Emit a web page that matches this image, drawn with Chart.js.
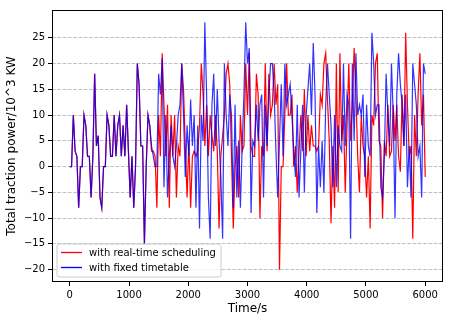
<!DOCTYPE html>
<html>
<head>
<meta charset="utf-8">
<script src="https://cdn.jsdelivr.net/npm/chart.js@4.4.1/dist/chart.umd.min.js"></script>
<style>
html,body{margin:0;padding:0;background:#fff;}
#wrap{width:462px;height:325px;position:relative;}
</style>
</head>
<body>
<div id="wrap"><canvas id="c" width="462" height="325"></canvas></div>
<script>
// ---- data (time in s, power in 10^3 kW) ----
const times = [
0,30,60,90,120,150,180,210,240,270,300,330,360,390,420,450,480,510,540,570,
600,630,660,690,720,750,780,810,840,870,900,930,960,990,1020,1050,1080,1110,1140,1170,
1200,1230,1260,1290,1320,1350,1380,1410,1440,1470,1500,1530,1560,1590,1620,1650,1680,1710,1740,1770,
1800,1830,1860,1890,1920,1950,1980,2010,2040,2070,2100,2130,2160,2190,2220,2250,2280,2310,2340,2370,
2400,2430,2460,2490,2520,2550,2580,2610,2640,2670,2700,2730,2760,2790,2820,2850,2880,2910,2940,2970,
3000,3030,3060,3090,3120,3150,3180,3210,3240,3270,3300,3330,3360,3390,3420,3450,3480,3510,3540,3570,
3600,3630,3660,3690,3720,3750,3780,3810,3840,3870,3900,3930,3960,3990,4020,4050,4080,4110,4140,4170,
4200,4230,4260,4290,4320,4350,4380,4410,4440,4470,4500,4530,4560,4590,4620,4650,4680,4710,4740,4770,
4800,4830,4860,4890,4920,4950,4980,5010,5040,5070,5100,5130,5160,5190,5220,5250,5280,5310,5340,5370,
5400,5430,5460,5490,5520,5550,5580,5610,5640,5670,5700,5730,5760,5790,5820,5850,5880,5910,5940,5970,
6000
];

// identical for both runs until ~1300 s
const sharedStart = [
0,0,10,3,2,-8,0,0,10,8,2,2,-6,2,18,4,6,-6,-8,0,
0,10,8,2,2,10,2,8,10,2,8,2,12,3,-6,2,-8,0,20,16,
4,4,-15,0
];

const realTimeRest = [
10,8,3,3,2,-8,10,2,22,12,
2,12,-8,10,2,10,-6,4,2,20,
15,4,-6,5,-8,2,3,2,3,8,
20,14,4,12,2,10,6,3,10,3,
-12,2,6,10,18,20,16,2,-12,0,
4,-6,10,3,4,20,10,22,4,2,
2,18,14,-10,4,2,20,3,18,10,
12,20,12,16,-20,0,0,10,20,10,
10,14,0,4,-5,3,10,3,15,2,
10,3,8,4,4,3,4,14,12,20,
22,13,5,-11,4,-8,20,-5,22,5,
10,-5,8,20,5,12,23,14,2,-5,
10,4,2,-6,2,-12,10,8,20,22,
5,4,-10,5,2,12,2,3,12,5,
12,2,-1,14,4,26,12,2,4,-14,
10,2,14,22,8,14,-2
];

const fixedRest = [
10,8,4,2,0,0,18,14,21,-4,
10,-6,2,8,2,0,4,10,12,20,
10,-2,8,2,13,4,10,-8,8,-12,
10,5,28,14,-6,-14,12,18,4,15,
5,-2,-14,20,10,4,14,10,-8,12,
-6,5,-8,4,14,28,20,23,-9,5,
4,12,5,12,14,-6,12,4,14,20,
20,14,3,-6,5,16,2,20,12,14,
16,10,3,-2,12,-6,3,12,-5,10,
15,20,10,24,14,-9,4,-4,5,-5,
12,20,14,8,-4,10,-4,8,4,3,
20,4,14,12,-14,20,5,22,10,12,
10,14,-2,12,4,2,26,20,10,12,
12,-4,-6,2,18,10,4,20,10,-10,
14,22,16,12,4,14,-4,4,-6,20,
16,12,2,4,-6,20,18
];

const realTimePower = sharedStart.concat(realTimeRest);
const fixedPower = sharedStart.concat(fixedRest);

const seriesNames = ['with real-time scheduling', 'with fixed timetable'];
const xTicks = [0, 1000, 2000, 3000, 4000, 5000, 6000];
const yTicks = [-20, -15, -10, -5, 0, 5, 10, 15, 20, 25];

// ---- chart ----
Chart.defaults.font.family = '"DejaVu Sans", sans-serif';
Chart.defaults.font.size = 10;
Chart.defaults.color = '#000';

const toXY = (vals) => vals.map((v, i) => ({x: times[i], y: v}));

const framePlugin = {
  id: 'frameLegend',
  afterDraw(chart) {
    const ctx = chart.ctx, a = chart.chartArea;
    ctx.save();
    // axes frame
    ctx.strokeStyle = '#000';
    ctx.lineWidth = 1;
    ctx.strokeRect(Math.round(a.left) + 0.5, Math.round(a.top) + 0.5,
                   Math.round(a.right - a.left) - 1, Math.round(a.bottom - a.top) - 1);
    // legend box (inside, lower-left)
    const lx = a.left + 5, lw = 164, lh = 33, ly = a.bottom - 5 - lh;
    const r = 2.5;
    ctx.beginPath();
    ctx.moveTo(lx + r, ly);
    ctx.lineTo(lx + lw - r, ly); ctx.quadraticCurveTo(lx + lw, ly, lx + lw, ly + r);
    ctx.lineTo(lx + lw, ly + lh - r); ctx.quadraticCurveTo(lx + lw, ly + lh, lx + lw - r, ly + lh);
    ctx.lineTo(lx + r, ly + lh); ctx.quadraticCurveTo(lx, ly + lh, lx, ly + lh - r);
    ctx.lineTo(lx, ly + r); ctx.quadraticCurveTo(lx, ly, lx + r, ly);
    ctx.closePath();
    ctx.fillStyle = 'rgba(255,255,255,0.8)';
    ctx.fill();
    ctx.strokeStyle = '#cccccc';
    ctx.lineWidth = 1;
    ctx.stroke();
    ctx.font = '10px "DejaVu Sans", sans-serif';
    ctx.textBaseline = 'middle';
    ctx.textAlign = 'left';
    const legendColors = ['#ff0000', '#0000ff'];
    chart.data.datasets.forEach((ds, i) => {
      const yy = ly + 8.5 + i * 15;
      ctx.strokeStyle = legendColors[i];
      ctx.lineWidth = 1.3;
      ctx.beginPath();
      ctx.moveTo(lx + 4, yy); ctx.lineTo(lx + 25, yy);
      ctx.stroke();
      ctx.fillStyle = '#000';
      ctx.fillText(ds.label, lx + 32, yy + 0.5);
    });
    ctx.restore();
  }
};

new Chart(document.getElementById('c'), {
  type: 'line',
  data: {
    datasets: [
      {label: seriesNames[0], data: toXY(realTimePower), borderColor: '#ff0000',
       borderWidth: 1.2, pointRadius: 0, tension: 0, fill: false, order: 1},
      {label: seriesNames[1], data: toXY(fixedPower), borderColor: 'rgba(0,0,255,0.8)',
       borderWidth: 1.2, pointRadius: 0, tension: 0, fill: false, order: 0}
    ]
  },
  options: {
    responsive: false,
    animation: false,
    events: [],
    layout: {padding: {top: 10, right: 19, left: 0, bottom: 0}},
    plugins: {legend: {display: false}, tooltip: {enabled: false}},
    scales: {
      x: {
        type: 'linear', min: -300, max: 6300,
        afterBuildTicks: (s) => { s.ticks = xTicks.map(v => ({value: v})); },
        afterFit: (s) => { s.height = 43; },
        ticks: {padding: 3, maxRotation: 0, autoSkip: false, color: '#000',
                font: {size: 10}, callback: (v) => String(v)},
        grid: {drawOnChartArea: false, drawTicks: true, tickLength: 4,
               tickColor: '#000', tickWidth: 1},
        border: {display: false},
        title: {display: true, text: 'Time/s', color: '#000',
                font: {size: 12}, padding: {top: 0, bottom: 9}}
      },
      y: {
        type: 'linear', min: -22.4, max: 30.4,
        afterBuildTicks: (s) => { s.ticks = yTicks.map(v => ({value: v})); },
        afterFit: (s) => { s.width = 52; },
        ticks: {padding: 3, autoSkip: false, color: '#000', font: {size: 10},
                callback: (v) => String(v).replace('-', '\u2212')},
        grid: {color: '#b0b0b0', lineWidth: 0.8, drawTicks: true, tickLength: 4,
               tickColor: '#000', tickWidth: 1},
        border: {display: false, dash: [3.7, 1.6]},
        title: {display: true, text: 'Total traction power/10^3 KW', color: '#000',
                font: {size: 12}, padding: {top: 4.5, bottom: 0}}
      }
    }
  },
  plugins: [framePlugin]
});
</script>
</body>
</html>
